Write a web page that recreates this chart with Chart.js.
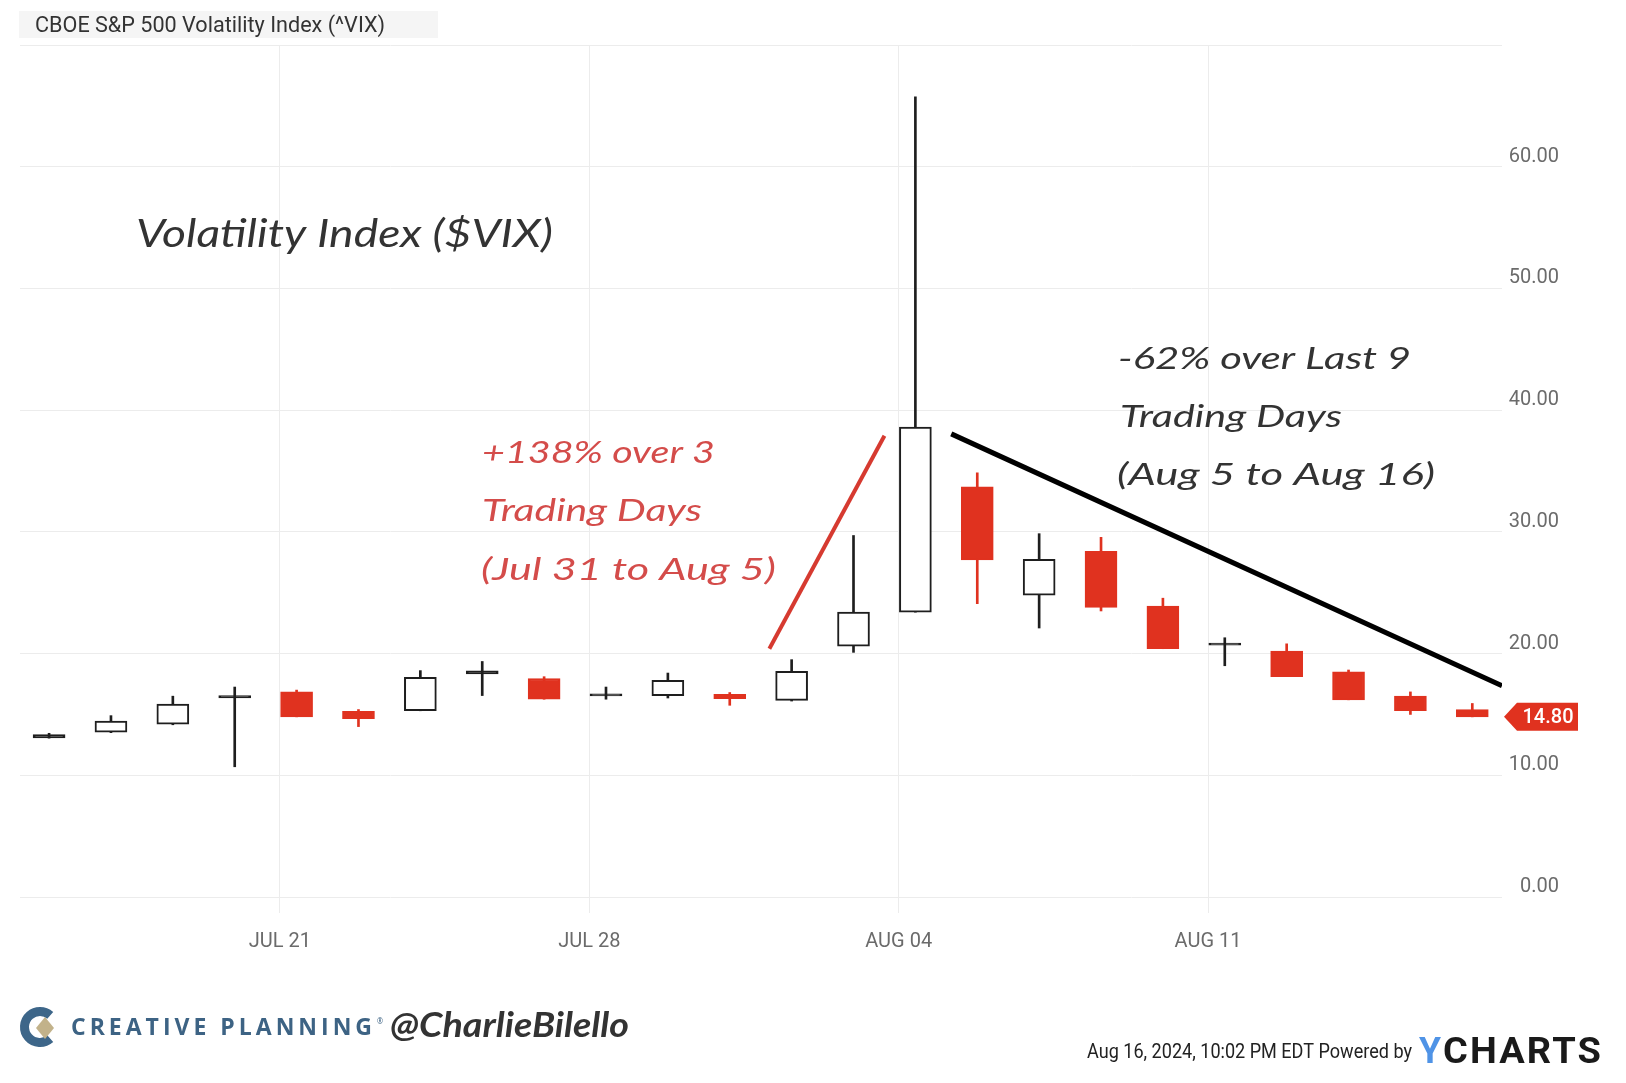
<!DOCTYPE html>
<html>
<head>
<meta charset="utf-8">
<title>VIX</title>
<script src="https://cdn.jsdelivr.net/npm/chart.js@4.4.1/dist/chart.umd.min.js"></script>
<style>
  html, body { margin: 0; padding: 0; background: #fff; }
  canvas { display: block; }
</style>
</head>
<body>
<canvas id="grafico" width="1626" height="1083"></canvas>
<script>
// trading days, Jul 16 - Aug 16 2024
var dates = ['2024-07-16', '2024-07-17', '2024-07-18', '2024-07-19',
    '2024-07-22', '2024-07-23', '2024-07-24', '2024-07-25', '2024-07-26',
    '2024-07-29', '2024-07-30', '2024-07-31', '2024-08-01', '2024-08-02',
    '2024-08-05', '2024-08-06', '2024-08-07', '2024-08-08', '2024-08-09',
    '2024-08-12', '2024-08-13', '2024-08-14', '2024-08-15', '2024-08-16'];

var openVals  = [13.08, 13.55, 14.20, 16.36, 16.85, 15.25, 15.30, 18.33, 17.95,
    16.52, 16.55, 16.65, 16.15, 20.60, 23.40, 33.70, 24.80, 28.40, 23.90,
    20.68, 20.20, 18.50, 16.50, 15.40];
var highVals  = [13.45, 14.90, 16.50, 17.25, 17.00, 15.40, 18.60, 19.35, 18.10,
    17.25, 18.40, 16.80, 19.50, 29.70, 65.75, 34.85, 29.85, 29.55, 24.55,
    21.30, 20.80, 18.65, 16.85, 15.90];
var lowVals   = [13.05, 13.50, 14.15, 10.70, 14.80, 14.00, 15.30, 16.55, 16.25,
    16.25, 16.35, 15.75, 16.10, 20.10, 23.40, 24.10, 22.10, 23.50, 20.40,
    19.00, 18.10, 16.20, 15.00, 14.80];
var closeVals = [13.34, 14.45, 15.85, 16.54, 14.80, 14.65, 18.05, 18.58, 16.25,
    16.70, 17.80, 16.30, 18.55, 23.40, 38.60, 27.70, 27.75, 23.80, 20.40,
    20.86, 18.10, 16.20, 15.30, 14.80];

var weekLabels = ['JUL 21', 'JUL 28', 'AUG 04', 'AUG 11'];

// hand drawn trend lines, in (trading day index, value)
var riseLine = [{ x: 11.64, y: 20.4 }, { x: 13.50, y: 37.9 }];
var fallLine = [{ x: 14.58, y: 38.05 }, { x: 23.48, y: 17.35 }];

var upColor = '#1e1e1e';
var downColor = '#e0321f';
var MONTHS = ['JAN', 'FEB', 'MAR', 'APR', 'MAY', 'JUN', 'JUL', 'AUG', 'SEP', 'OCT', 'NOV', 'DEC'];

// the week labels sit just before the first trading day that follows them
var weekPos = weekLabels.map(function (lbl) {
    var parts = lbl.split(' ');
    var d = new Date(Date.UTC(2024, MONTHS.indexOf(parts[0]), parseInt(parts[1], 10)));
    for (var i = 0; i < dates.length; i++) {
        if (new Date(dates[i] + 'T00:00:00Z') > d) return i - 0.27;
    }
    return dates.length;
});

var isUp = dates.map(function (d, i) { return closeVals[i] >= openVals[i]; });
// cuerpos casi planos: se pintan llenos para que se vea la raya
var isDoji = dates.map(function (d, i) { return Math.abs(closeVals[i] - openVals[i]) < 0.3; });

function drawText(ctx, txt, x, base, width, font, color, spacing) {
    ctx.save();
    ctx.font = font;
    ctx.fillStyle = color;
    ctx.textBaseline = 'alphabetic';
    ctx.textAlign = 'left';
    if (spacing) ctx.letterSpacing = spacing + 'px';
    var w = ctx.measureText(txt).width;
    ctx.translate(x, base);
    ctx.scale(width / w, 1);
    ctx.fillText(txt, 0, 0);
    ctx.restore();
}

var hand = '"Lato", "Open Sans", sans-serif';

var extras = {
    id: 'extras',
    afterDraw: function (chart) {
        var ctx = chart.ctx;
        var area = chart.chartArea;

        // titulo
        ctx.save();
        ctx.fillStyle = '#f5f5f5';
        ctx.fillRect(19, 11, 419, 27);
        ctx.restore();
        drawText(ctx, 'CBOE S&P 500 Volatility Index (^VIX)', 35, 32, 350, '22px Roboto', '#333');

        // notas escritas a mano
        drawText(ctx, 'Volatility Index ($VIX)', 136, 247, 417, 'italic 38px ' + hand, '#333');

        var red = '#d44c4a';
        drawText(ctx, '+138% over 3', 482, 463, 233, 'italic 31px ' + hand, red);
        drawText(ctx, 'Trading Days', 482, 521, 220, 'italic 31px ' + hand, red);
        drawText(ctx, '(Jul 31 to Aug 5)', 481, 580, 295, 'italic 31px ' + hand, red);

        drawText(ctx, '-62% over Last 9', 1118, 369, 293, 'italic 31px ' + hand, '#333');
        drawText(ctx, 'Trading Days', 1120, 427, 222, 'italic 31px ' + hand, '#333');
        drawText(ctx, '(Aug 5 to Aug 16)', 1117, 485, 318, 'italic 31px ' + hand, '#333');

        // etiqueta del ultimo cierre
        var last = closeVals[closeVals.length - 1];
        var y = chart.scales.y.getPixelForValue(last);
        var x0 = area.right + 2;
        ctx.save();
        ctx.fillStyle = downColor;
        ctx.beginPath();
        ctx.moveTo(x0, y);
        ctx.lineTo(x0 + 13, y - 14);
        ctx.lineTo(x0 + 74, y - 14);
        ctx.lineTo(x0 + 74, y + 14);
        ctx.lineTo(x0 + 13, y + 14);
        ctx.closePath();
        ctx.fill();
        ctx.fillStyle = '#fff';
        ctx.font = '500 20px Roboto';
        ctx.textAlign = 'center';
        ctx.textBaseline = 'middle';
        ctx.fillText(last.toFixed(2), x0 + 44, y + 1);
        ctx.restore();

        // logo
        ctx.save();
        ctx.strokeStyle = '#3d6689';
        ctx.lineWidth = 9;
        ctx.beginPath();
        ctx.arc(40, 1027, 15.5, Math.PI * 0.27, Math.PI * 1.73);
        ctx.stroke();
        ctx.fillStyle = '#c2b28a';
        ctx.beginPath();
        ctx.moveTo(45, 1017);
        ctx.lineTo(54, 1028);
        ctx.lineTo(45, 1039);
        ctx.lineTo(36, 1028);
        ctx.closePath();
        ctx.fill();
        ctx.restore();

        drawText(ctx, 'CREATIVE PLANNING', 71, 1035, 305, 'bold 23px "Open Sans"', '#3d6384', 4);
        drawText(ctx, '®', 377, 1024, 6, '9px "Open Sans"', '#3d6384');
        drawText(ctx, '@CharlieBilello', 390, 1037, 239, 'italic bold 35px ' + hand, '#333');

        drawText(ctx, 'Aug 16, 2024, 10:02 PM EDT Powered by', 1087, 1058, 325, '21px Roboto', '#222');
        drawText(ctx, 'Y', 1419, 1063, 22, 'bold 36px Roboto', '#4f93e6');
        drawText(ctx, 'CHARTS', 1443, 1063, 160, 'bold 36px Roboto', '#1a1a1a', 2);
    }
};

var ctx = document.getElementById('grafico').getContext('2d');

var myChart = new Chart(ctx, {
    type: 'bar',
    data: {
        datasets: [
            {
                type: 'line',
                data: riseLine,
                borderColor: '#d63a30',
                borderWidth: 4,
                pointRadius: 0,
                order: 0
            },
            {
                type: 'line',
                data: fallLine,
                borderColor: '#000',
                borderWidth: 5,
                pointRadius: 0,
                order: 0
            },
            {
                // cuerpos
                data: dates.map(function (d, i) { return { x: i, y: [openVals[i], closeVals[i]] }; }),
                backgroundColor: isUp.map(function (u, i) {
                    if (!u) return downColor;
                    return isDoji[i] ? upColor : '#ffffff';
                }),
                borderColor: isUp.map(function (u) { return u ? upColor : downColor; }),
                borderWidth: 2,
                borderSkipped: false,
                barThickness: 32,
                grouped: false,
                order: 1
            },
            {
                // mechas
                data: dates.map(function (d, i) { return { x: i, y: [lowVals[i], highVals[i]] }; }),
                backgroundColor: isUp.map(function (u) { return u ? upColor : downColor; }),
                borderWidth: 0,
                barThickness: 2,
                grouped: false,
                order: 2
            }
        ]
    },
    options: {
        responsive: false,
        animation: false,
        events: [],
        layout: { padding: { left: 20, top: 45, right: 67, bottom: 126 } },
        plugins: {
            legend: { display: false },
            tooltip: { enabled: false }
        },
        scales: {
            x: {
                type: 'linear',
                min: -0.47,
                max: 23.48,
                offset: false,
                afterBuildTicks: function (s) {
                    s.ticks = weekPos.map(function (v) { return { value: v }; });
                },
                afterFit: function (s) {
                    s.height = 60;
                    s.paddingLeft = 0;
                    s.paddingRight = 0;
                },
                ticks: {
                    autoSkip: false,
                    maxRotation: 0,
                    padding: 17,
                    color: '#6b6b6b',
                    font: { family: 'Roboto', size: 20 },
                    callback: function (v, i) { return weekLabels[i]; }
                },
                grid: { offset: false, color: '#ececec', tickColor: '#ececec', tickLength: 16 },
                border: { display: false }
            },
            y: {
                position: 'right',
                min: 0,
                max: 70,
                afterFit: function (s) {
                    s.width = 57;
                    s.paddingTop = 0;
                    s.paddingBottom = 0;
                },
                ticks: {
                    stepSize: 10,
                    padding: 0,
                    crossAlign: 'far',
                    labelOffset: -10,
                    color: '#6b6b6b',
                    font: { family: 'Roboto', size: 20 },
                    callback: function (v) { return v >= 70 ? '' : v.toFixed(2); }
                },
                grid: { color: '#ececec', drawTicks: false },
                border: { display: false }
            }
        }
    },
    plugins: [extras]
});
</script>
</body>
</html>
